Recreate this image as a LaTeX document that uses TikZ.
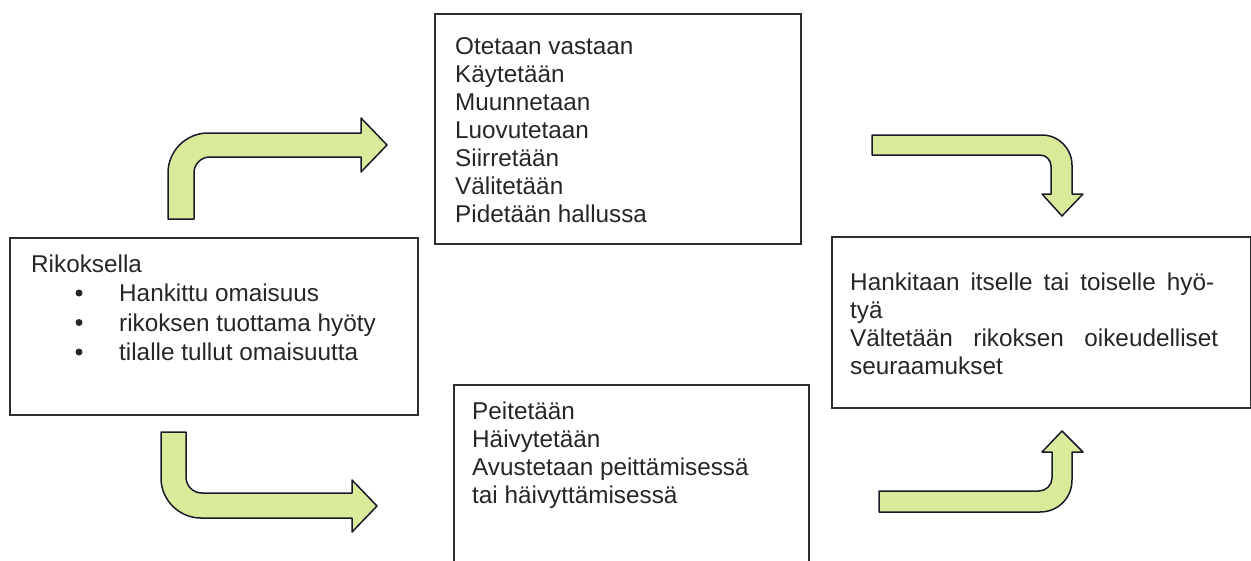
\documentclass[tikz,border=0pt]{standalone}
\usepackage{fontspec}
\setmainfont{Liberation Sans}
\definecolor{boxgray}{HTML}{2E2E2E}
\definecolor{txtgray}{HTML}{262626}
\definecolor{arrowgreen}{HTML}{D7EB9B}
\definecolor{arrowedge}{HTML}{1A1A2A}
\begin{document}
\begin{tikzpicture}[x=1pt,y=-1pt,
  box/.style={draw=boxgray, line width=1.5pt, rectangle, anchor=north west, inner sep=0pt},
  txt/.style={anchor=base west, inner sep=0pt, text=txtgray, font=\fontsize{24.3}{28}\selectfont},
  dot/.style={circle, fill=txtgray, inner sep=0pt, minimum size=7pt},
  barrow/.style={fill=arrowgreen, draw=arrowedge, line width=1.5pt, line join=round}]
\useasboundingbox (0,0) rectangle (1251,560);

% boxes
\node[box, minimum width=408pt, minimum height=177pt] (src) at (9,237) {};
\node[box, minimum width=366pt, minimum height=230pt] (use) at (434,13) {};
\node[box, minimum width=355pt, minimum height=190pt] (hide) at (453,384) {};
\node[box, minimum width=419pt, minimum height=171pt] (goal) at (831,236) {};

% left box text
\node[txt] (s0) at (31,272) {Rikoksella};
\node[dot] (b1) at (79,293) {};
\node[dot] (b2) at (79,322.5) {};
\node[dot] (b3) at (79,352) {};
\node[txt] (s1) at (119,301.5) {Hankittu omaisuus};
\node[txt] (s2) at (119,331) {rikoksen tuottama hyöty};
\node[txt] (s3) at (119,360.5) {tilalle tullut omaisuutta};

% top box text
\node[txt] (u1) at (455,54) {Otetaan vastaan};
\node[txt] (u2) at (455,82) {Käytetään};
\node[txt] (u3) at (455,110) {Muunnetaan};
\node[txt] (u4) at (455,138) {Luovutetaan};
\node[txt] (u5) at (455,166) {Siirretään};
\node[txt] (u6) at (455,194) {Välitetään};
\node[txt] (u7) at (455,222) {Pidetään hallussa};

% bottom box text
\node[txt] (h1) at (472,419) {Peitetään};
\node[txt] (h2) at (472,447) {Häivytetään};
\node[txt] (h3) at (472,475) {Avustetaan peittämisessä};
\node[txt] (h4) at (472,503) {tai häivyttämisessä};

% right box text
\node[txt] (g1) at (850,290) {\makebox[364pt][s]{Hankitaan itselle tai toiselle hyö-}};
\node[txt] (g2) at (850,318) {tyä};
\node[txt] (g3) at (850,346) {\makebox[368pt][s]{Vältetään rikoksen oikeudelliset}};
\node[txt] (g4) at (850,374) {seuraamukset};

% bent block arrows
% up then right
\draw[barrow] (168,219) -- (168,173) .. controls (168,151) and (186,133) .. (208,133)
  -- (361,133) -- (361,118) -- (387,145) -- (361,172) -- (361,157) -- (210,157)
  .. controls (201,157) and (194,164) .. (194,173) -- (194,219) -- cycle;
% down then right
\draw[barrow] (161,432) -- (161,478) .. controls (161,500) and (179,518) .. (201,518)
  -- (352,518) -- (352,532) -- (377,506) -- (352,480) -- (352,493) -- (202,493)
  .. controls (193,493) and (186,486) .. (186,477) -- (186,432) -- cycle;
% right then down
\draw[barrow] (872,135) -- (1042,135) .. controls (1058.5,135) and (1072,148.5) .. (1072,165)
  -- (1072,194) -- (1083,194) -- (1062,216) -- (1042,194) -- (1051,194) -- (1051,166)
  .. controls (1051,160) and (1046,155) .. (1040,155) -- (872,155) -- cycle;
% right then up
\draw[barrow] (879,491) -- (1039,491) .. controls (1046,491) and (1052,485) .. (1052,478)
  -- (1052,452) -- (1042,452) -- (1062,431) -- (1083,452) -- (1072,452) -- (1072,480)
  .. controls (1072,498) and (1058,512) .. (1040,512) -- (879,512) -- cycle;
\end{tikzpicture}
\end{document}
